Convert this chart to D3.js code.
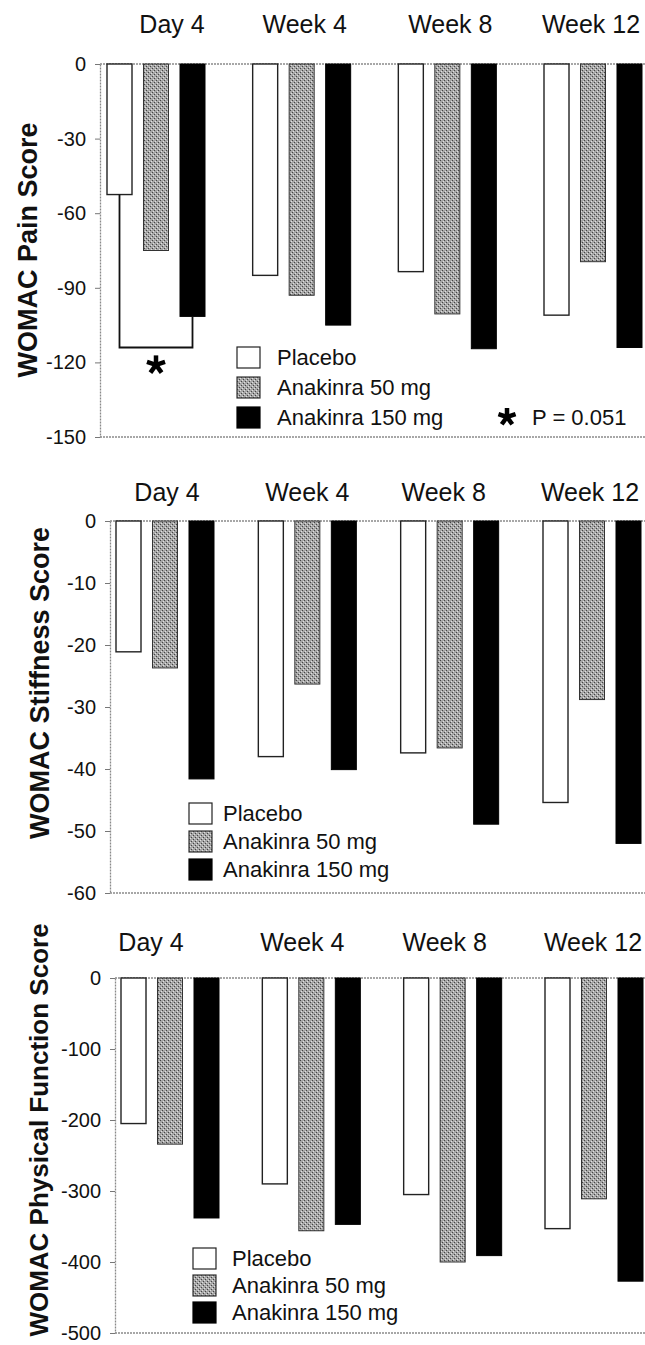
<!DOCTYPE html>
<html>
<head>
<meta charset="utf-8">
<script src="https://d3js.org/d3.v7.min.js"></script>
<style>
  body { margin: 0; background: #fff; }
  text { font-family: "Liberation Sans", Arial, sans-serif; fill: #111; }
</style>
</head>
<body>
<script>
	// categories and series
	const categories = ["Day 4", "Week 4", "Week 8", "Week 12"];
	const series = ["Placebo", "Anakinra 50 mg", "Anakinra 150 mg"];

	// WOMAC pain
	const painPlacebo = [-52.5, -85, -83.5, -101];
	const pain50 = [-75, -93, -100.5, -79.5];
	const pain150 = [-101.5, -105, -114.5, -114];
	const painTicks = [0, -30, -60, -90, -120, -150];

	// WOMAC stiffness
	const stiffPlacebo = [-21.1, -38, -37.4, -45.4];
	const stiff50 = [-23.7, -26.3, -36.6, -28.8];
	const stiff150 = [-41.6, -40.1, -48.9, -52];
	const stiffTicks = [0, -10, -20, -30, -40, -50, -60];

	// WOMAC physical function
	const funcPlacebo = [-205, -290, -305, -353];
	const func50 = [-234, -356, -400, -311];
	const func150 = [-338, -347, -391, -427];
	const funcTicks = [0, -100, -200, -300, -400, -500];

	// significance bracket (pain, Day 4 placebo vs 150 mg)
	const bracketLevel = -114;
	const starLevel = -121;
	const pNote = "P = 0.051";

	const W = 645, H = 1345;
	const svg = d3.select("body").append("svg")
		.attr("width", W)
		.attr("height", H);

	// stippled grey fill for the 50 mg bars
	const defs = svg.append("defs");
	const pat = defs.append("pattern")
		.attr("id", "stipple")
		.attr("width", 4).attr("height", 4)
		.attr("patternUnits", "userSpaceOnUse");
	pat.append("rect").attr("width", 4).attr("height", 4).attr("fill", "#a6a6a6");
	pat.append("rect").attr("x", 0).attr("y", 0).attr("width", 1).attr("height", 1).attr("fill", "#444");
	pat.append("rect").attr("x", 2).attr("y", 2).attr("width", 1).attr("height", 1).attr("fill", "#444");
	pat.append("rect").attr("x", 1).attr("y", 3).attr("width", 1).attr("height", 1).attr("fill", "#e0e0e0");
	pat.append("rect").attr("x", 3).attr("y", 1).attr("width", 1).attr("height", 1).attr("fill", "#e0e0e0");

	const fills = ["#ffffff", "url(#stipple)", "#000000"];
	const strokes = ["#222", "#333", "#000"];

	const panels = [
		{ name: "WOMAC Pain Score", data: [painPlacebo, pain50, pain150], ticks: painTicks,
		  top: 64, bottom: 437, axisX: 100, first: 156, last: 593, catY: 33, catShift: [16, 3, 3, -2],
		  titleX: 28, titleY: 250, titleSize: 27, legX: 237, legY: 347, legStep: 30, legGap: 17 },
		{ name: "WOMAC Stiffness Score", data: [stiffPlacebo, stiff50, stiff150], ticks: stiffTicks,
		  top: 521, bottom: 893, axisX: 110, first: 165, last: 592, catY: 501, catShift: [2, 0, -6, -2],
		  titleX: 40, titleY: 683, titleSize: 27, legX: 189, legY: 803, legStep: 28, legGap: 11 },
		{ name: "WOMAC Physical Function Score", data: [funcPlacebo, func50, func150], ticks: funcTicks,
		  top: 978, bottom: 1333, axisX: 115, first: 170, last: 594, catY: 951, catShift: [-19, -9, -8, -1],
		  titleX: 39, titleY: 1130, titleSize: 26, legX: 193, legY: 1248, legStep: 27, legGap: 16 }
	];

	panels.forEach((p, pi) => {
		const g = svg.append("g");

		const y = d3.scaleLinear()
			.domain([0, d3.min(p.ticks)])
			.range([p.top, p.bottom]);

		const x = d3.scalePoint()
			.domain(categories)
			.range([p.first, p.last]);

		const inner = d3.scaleBand()
			.domain(series)
			.range([-54.75, 54.75])
			.paddingInner(0.315)
			.paddingOuter(0.1575);

		// frame lines (dotted grey like the scan)
		g.append("line")
			.attr("x1", p.axisX).attr("x2", W)
			.attr("y1", y(0)).attr("y2", y(0))
			.attr("stroke", "#8a8a8a").attr("stroke-width", 1.3).attr("stroke-dasharray", "2,1");
		g.append("line")
			.attr("x1", p.axisX).attr("x2", W)
			.attr("y1", y(d3.min(p.ticks))).attr("y2", y(d3.min(p.ticks)))
			.attr("stroke", "#8a8a8a").attr("stroke-width", 1.3).attr("stroke-dasharray", "2,1");

		// y axis, plain hyphen minus as in the original
		const ax = g.append("g")
			.attr("transform", `translate(${p.axisX},0)`)
			.call(d3.axisLeft(y).tickValues(p.ticks).tickFormat(d => String(d))
				.tickSize(5).tickSizeOuter(0).tickPadding(9));
		ax.select(".domain").attr("stroke", "#8a8a8a").attr("stroke-width", 1.3).attr("stroke-dasharray", "2,1");
		ax.selectAll(".tick line").attr("stroke", "#777");
		ax.selectAll(".tick text")
			.attr("font-size", 20)
			.attr("font-family", "Liberation Sans, Arial, sans-serif")
			.attr("fill", "#111");

		// bars
		series.forEach((s, si) => {
			g.selectAll(null)
				.data(p.data[si])
				.enter().append("rect")
				.attr("x", (d, i) => x(categories[i]) + inner(s))
				.attr("y", y(0))
				.attr("width", inner.bandwidth())
				.attr("height", d => y(d) - y(0))
				.attr("fill", fills[si])
				.attr("stroke", strokes[si])
				.attr("stroke-width", si === 0 ? 1.4 : 1);
		});

		// category labels above the plot
		g.selectAll(null)
			.data(categories)
			.enter().append("text")
			.attr("x", (d, i) => x(d) + p.catShift[i])
			.attr("y", p.catY)
			.attr("text-anchor", "middle")
			.attr("font-size", 25)
			.text(d => d);

		// y title
		g.append("text")
			.attr("transform", `translate(${p.titleX},${p.titleY}) rotate(-90)`)
			.attr("text-anchor", "middle")
			.attr("dominant-baseline", "central")
			.attr("font-size", p.titleSize)
			.attr("font-weight", "bold")
			.text(p.name);

		// legend
		const leg = g.selectAll(".leg")
			.data(series)
			.enter().append("g")
			.attr("transform", (d, i) => `translate(${p.legX},${p.legY + i * p.legStep})`);
		leg.append("rect")
			.attr("width", 23).attr("height", 21)
			.attr("fill", (d, i) => fills[i])
			.attr("stroke", (d, i) => strokes[i])
			.attr("stroke-width", 1.2);
		leg.append("text")
			.attr("x", 23 + p.legGap)
			.attr("y", 18)
			.attr("font-size", 22)
			.text(d => d);

		// significance marks on the pain panel
		if (pi === 0) {
			const xa = x(categories[0]) + inner(series[0]) + inner.bandwidth() / 2;
			const xb = x(categories[0]) + inner(series[2]) + inner.bandwidth() / 2;
			const line = d3.line();
			g.append("path")
				.attr("d", line([[xa, y(painPlacebo[0])], [xa, y(bracketLevel)], [xb, y(bracketLevel)], [xb, y(pain150[0])]]))
				.attr("fill", "none")
				.attr("stroke", "#111")
				.attr("stroke-width", 1.8);

			const star = (cx, cy, r) => {
				d3.range(5).forEach(k => {
					const a = -Math.PI / 2 + k * 2 * Math.PI / 5;
					g.append("path")
						.attr("d", line([[cx, cy], [cx + r * Math.cos(a), cy + r * Math.sin(a)]]))
						.attr("stroke", "#000")
						.attr("stroke-width", 4.5);
				});
			};
			star((xa + xb) / 2, y(starLevel), 9.5);
			star(507, 417, 9);

			g.append("text")
				.attr("x", 532)
				.attr("y", 425)
				.attr("font-size", 22)
				.text(pNote);
		}
	});
</script>
</body>
</html>
